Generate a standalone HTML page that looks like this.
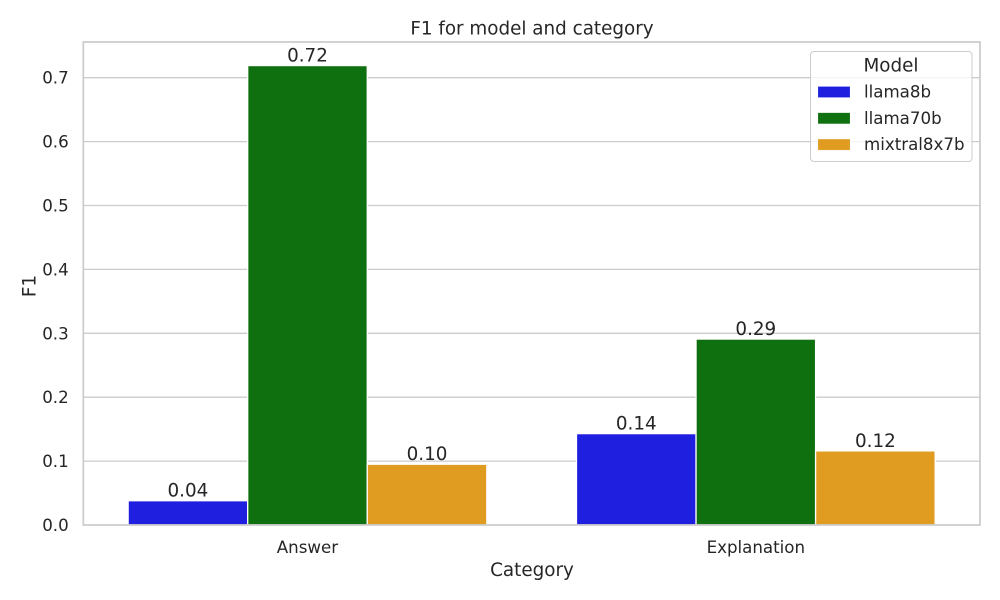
<!DOCTYPE html>
<html>
<head>
<meta charset="utf-8">
<title>F1 for model and category</title>
<style>
html,body{margin:0;padding:0;background:#fff;}
svg{display:block;}
text{font-family:"DejaVu Sans","Liberation Sans",sans-serif;fill:#262626;}
</style>
</head>
<body>
<svg id="chart" width="1000" height="600" viewBox="0 0 1000 600" xmlns="http://www.w3.org/2000/svg"></svg>
<script>
const categories = ['Answer', 'Explanation'];
const models = ['llama8b', 'llama70b', 'mixtral8x7b'];
const llama8bValues = [0.038, 0.143];
const llama70bValues = [0.719, 0.291];
const mixtralValues = [0.0951, 0.116];
const yTicks = [0, 0.1, 0.2, 0.3, 0.4, 0.5, 0.6, 0.7];
const seriesColors = ['#1f1fe0', '#0f700f', '#e09c20'];
const seriesValues = [llama8bValues, llama70bValues, mixtralValues];

const plotLeft = 83.3, plotRight = 980, plotTop = 42, plotBottom = 525;
const yScale = v => plotBottom - v * 639;
const xBand = (plotRight - plotLeft) / categories.length;
const xCenter = i => plotLeft + xBand * (i + 0.5);
const barW = xBand * 0.8 / models.length;
const svg = document.getElementById('chart');
const NS = 'http://www.w3.org/2000/svg';
function make(tag, attrs, text) {
  const node = document.createElementNS(NS, tag);
  for (const k in attrs) node.setAttribute(k, attrs[k]);
  if (text !== undefined) node.textContent = text;
  svg.appendChild(node);
  return node;
}
let el;

el = make('rect', {x: 0, y: 0, width: 1000, height: 600, fill: '#fff'});



yTicks.forEach(t => {
  const y = yScale(t);
  if (t > 0) {
    el = make('line', {x1: plotLeft, x2: plotRight, y1: y, y2: y, stroke: '#cccccc', 'stroke-width': 1.3});
    
    
  }
  el = make('text', {x: 68.7, y: y + 6, 'text-anchor': 'end', 'font-size': 16.67}, t.toFixed(1));
  
  
});

seriesValues.forEach((vals, s) => {
  vals.forEach((v, c) => {
    const x = xCenter(c) + (s - (models.length - 1) / 2) * barW;
    const y = yScale(v);
    el = make('rect', {x: x - barW / 2, y: y, width: barW, height: plotBottom - y, fill: seriesColors[s], stroke: '#fff', 'stroke-width': 1.3});
    
    
    el = make('text', {x: x, y: y - 4, 'text-anchor': 'middle', 'font-size': 18.33}, v.toFixed(2));
    
    
  });
});

el = make('rect', {x: plotLeft, y: plotTop, width: plotRight - plotLeft, height: plotBottom - plotTop, fill: 'none', stroke: '#cccccc', 'stroke-width': 1.75});



categories.forEach((c, i) => {
  el = make('text', {x: xCenter(i), y: 553, 'text-anchor': 'middle', 'font-size': 16.67}, c);
  
  
});

el = make('text', {x: 532, y: 34.5, 'text-anchor': 'middle', 'font-size': 18.33}, 'F1 for model and category');



el = make('text', {x: 532, y: 576, 'text-anchor': 'middle', 'font-size': 18.33}, 'Category');



el = make('text', {x: 0, y: 0, 'text-anchor': 'middle', 'font-size': 18.33, transform: 'translate(35.5 286) rotate(-90)'}, 'F1');



el = make('rect', {x: 810.5, y: 51.5, width: 161.5, height: 110, rx: 3.5, ry: 3.5, fill: '#fff', 'fill-opacity': 0.8, stroke: '#cccccc', 'stroke-width': 1});



el = make('text', {x: 891, y: 71.3, 'text-anchor': 'middle', 'font-size': 18.33}, 'Model');



models.forEach((m, i) => {
  const y = 86.5 + i * 26.3;
  el = make('rect', {x: 818, y: y, width: 32, height: 11, fill: seriesColors[i], stroke: '#fff', 'stroke-opacity': 0.3, 'stroke-width': 0.5});
  
  
  el = make('text', {x: 864, y: y + 11, 'font-size': 16.67}, m);
  
  
});
</script>
</body>
</html>
